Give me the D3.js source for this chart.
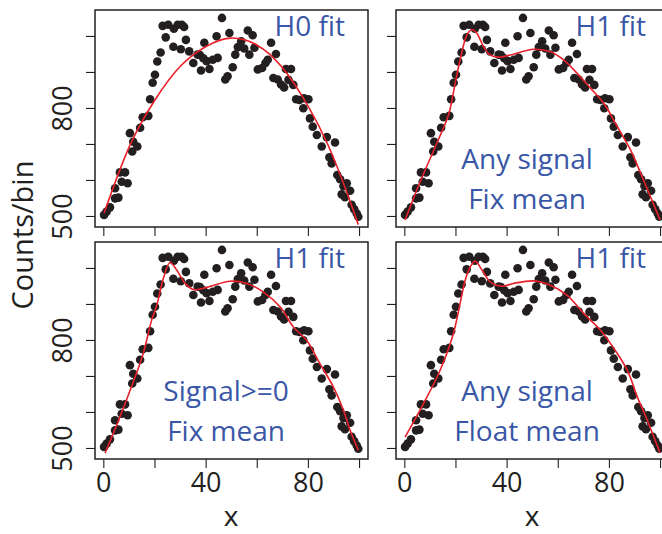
<!DOCTYPE html>
<html><head><meta charset="utf-8">
<script src="https://cdn.jsdelivr.net/npm/d3@7"></script>
<style>body{margin:0;background:#fff}svg{display:block}text{font-family:"Open Sans",sans-serif}</style>
</head><body><svg id="c" width="662" height="534"></svg>
<script>
// ---- data ----
const binX = [0.3,1.3,2.6,4.6,4.6,5.9,6.5,7.2,8.5,9.5,10.4,11.3,11.7,13.3,14.4,15.4,17.6,18.3,19.3,20.2,21.1,22.4,23.2,24.4,25.4,27.6,27.4,29.1,30.3,30.7,31.6,32.3,33.6,35.2,36.9,37.8,38.2,39.1,39.5,40.4,41.5,42.8,44.3,44.7,46.4,47.7,48.6,49.3,50.6,51.6,52.6,53.9,55.1,56.5,57.1,58.4,59.1,60.4,62.1,63.4,64.3,65.6,66.5,67.5,68.2,69.5,70.7,71.4,72.4,73.4,74.3,75.4,76.7,78.2,78.5,80.2,80.8,81.9,83.5,85.4,87.4,88.4,89.3,90.6,91.5,92.6,93.2,93.9,94.5,95.2,96.5,97.1,98.1,99.1,99.7];
const counts = [503,512,524,549,577,551,621,595,621,591,730,679,706,693,745,774,778,824,870,892,929,954,1028,996,1031,1020,970,1031,963,1031,1025,989,957,925,948,947,904,938,981,930,908,934,999,939,1050,879,888,1008,913,948,969,985,965,1015,948,1002,967,907,911,925,934,981,883,950,879,865,857,908,878,908,864,824,822,799,827,824,771,748,725,693,719,663,646,704,614,602,560,583,552,591,570,531,519,507,498];

const h0FitX = [0.3,10,20,30,40,49.6,60,70,80,88,95,99.7];
const h0FitY = [508,690,820,915,970,994,975,912,806,695,570,476];

const anyFixX = [0.3,6.2,12.7,17.3,19.9,21.8,24.5,26.4,28.4,31,33.6,36.9,41.5,50.6,57.1,62.4,67.6,72.8,78,83.3,88.5,92.4,95.7,100];
const anyFixY = [489,595,702,781,869,933,1003,1017,1007,970,947,941,947,963,956,933,896,855,813,748,683,619,563,489];

const posFixX = [0.7,5.2,11.7,15.6,18.9,20.9,23.5,26.1,28.7,32,35.2,40.4,49.6,56.1,62.6,69.1,74.3,79.5,84.7,90,93.9,96.5,99.7];
const posFixY = [486,563,683,762,855,896,971,1015,994,957,940,946,963,957,933,892,836,799,734,669,605,549,494];

const anyFloatX = [0.3,7.5,14,19.2,21.8,23.8,25.8,27.7,30.4,33.6,38.2,42.7,50.6,57.1,63.7,70.2,76.7,82,87.2,91.1,95,100];
const anyFloatY = [530,623,716,818,901,966,1003,1019,994,961,949,957,964,952,924,873,827,776,716,642,577,486];

const xTicks = [0,20,40,60,80,100];
const xTickLabels = [0,40,80];
const yTicks = [500,600,700,800,900,1000];
const yTickLabels = [500,800];

const panelTitles = ["H0 fit","H1 fit","H1 fit","H1 fit"];
const panelNotes = [[],["Any signal","Fix mean"],["Signal>=0","Fix mean"],["Any signal","Float mean"]];
const fitXs = [h0FitX, anyFixX, posFixX, anyFloatX];
const fitYs = [h0FitY, anyFixY, posFixY, anyFloatY];

// ---- drawing ----
const svg = d3.select("#c");
const ink = "#231f20", red = "#e8202a", blue = "#3a56a6";
const cols = [95, 396], rows = [10, 242], W = 273, H = 217;
const pts = binX.map((v,i)=>({x:v,y:counts[i]}));

for (let k = 0; k < 4; k++) {
  const row = Math.floor(k/2), col = k%2;
  const L = cols[col], T = rows[row];
  const x = d3.scaleLinear().domain([-3.25,103.5]).range([L, L+W]);
  const y = d3.scaleLinear().domain([469.4,1072]).range([T+H, T]);
  const g = svg.append("g");

  // x axis
  const xa = g.append("g").attr("transform",`translate(0,${T+H})`)
    .call(d3.axisBottom(x).tickValues(xTicks).tickSize(9)
      .tickFormat(d => (row===1 && xTickLabels.includes(d)) ? d : ""));
  xa.select(".domain").remove();
  xa.selectAll("line").attr("stroke",ink).attr("stroke-width",1.1);
  xa.selectAll("text").attr("y",33).attr("dy",0).attr("fill",ink)
    .style("font-size","27px").style("font-family","'Open Sans',sans-serif");

  // y axis
  const ya = g.append("g").attr("transform",`translate(${L},0)`)
    .call(d3.axisLeft(y).tickValues(yTicks).tickSize(9)
      .tickFormat(d => (col===0 && yTickLabels.includes(d)) ? d : ""));
  ya.select(".domain").remove();
  ya.selectAll("line").attr("stroke",ink).attr("stroke-width",1.1);
  ya.selectAll("text").attr("transform","rotate(-90)").attr("x",0).attr("y",-23).attr("dy",0)
    .attr("text-anchor","middle").attr("fill",ink)
    .style("font-size","27px").style("font-family","'Open Sans',sans-serif");

  // points
  g.selectAll("circle").data(pts).join("circle")
    .attr("cx",d=>x(d.x)).attr("cy",d=>y(d.y)).attr("r",4.3).attr("fill",ink);

  // fit curve
  const fx = fitXs[k], fy = fitYs[k];
  const line = d3.line().x(i=>x(fx[i])).y(i=>y(fy[i]))
    .curve(k===0 ? d3.curveNatural : d3.curveCatmullRom.alpha(0.5));
  g.append("path").attr("d", line(d3.range(fx.length)))
    .attr("fill","none").attr("stroke",red).attr("stroke-width",1.6);

  // box
  g.append("rect").attr("x",L).attr("y",T).attr("width",W).attr("height",H)
    .attr("fill","none").attr("stroke",ink).attr("stroke-width",1.5);

  // texts
  g.append("text").attr("x",L+W-23).attr("y",T+26).attr("text-anchor","end")
    .attr("fill",blue).style("font-size","28px").text(panelTitles[k]);
  panelNotes[k].forEach((t,i)=>{
    g.append("text").attr("x",x(48)).attr("y",T+159+40*i).attr("text-anchor","middle")
      .attr("fill",blue).style("font-size","28px").text(t);
  });

  if (row===1) {
    g.append("text").attr("x",x(50)).attr("y",526).attr("text-anchor","middle")
      .attr("fill",ink).style("font-size","28px").text("x");
  }
}

svg.append("text").attr("transform","translate(33,235) rotate(-90)").attr("text-anchor","middle")
  .attr("fill",ink).style("font-size","29px").text("Counts/bin");
</script></body></html>
